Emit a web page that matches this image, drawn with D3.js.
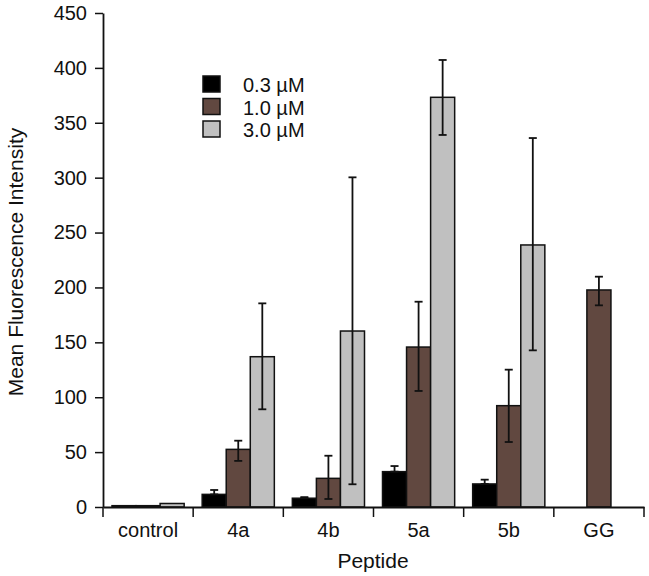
<!DOCTYPE html>
<html><head><meta charset="utf-8">
<script src="https://cdn.jsdelivr.net/npm/d3@7"></script>
<style>body{margin:0;background:#fff}svg{display:block}text{font-family:"Liberation Sans",Arial,sans-serif;fill:#111}</style>
</head><body>
<script>
const categories = ["control","4a","4b","5a","5b","GG"];
const seriesNames = ["0.3 µM","1.0 µM","3.0 µM"];
const seriesColors = ["#000000","#614840","#c0c0c0"];
// values per series (null = no bar)
const v03 = [1.2, 11.5, 8, 32.2, 21, null];
const v10 = [1.2, 52.5, 26.1, 145.7, 92.3, 197.7];
const v30 = [3.2, 136.9, 160.3, 373.2, 238.7, null];
// error bar low / high
const lo03 = [null, 11.5, 8, 32.2, 21, null];
const hi03 = [null, 15.5, 9, 37.3, 24.9, null];
const lo10 = [null, 42, 7.3, 105.7, 59.2, 183.7];
const hi10 = [null, 60.4, 46.7, 187, 125.1, 209.8];
const lo30 = [null, 89, 20.7, 338.9, 142.7, null];
const hi30 = [null, 185.5, 300.3, 407.2, 336.1, null];
const yTicks = [0,50,100,150,200,250,300,350,400,450];

const W=649,H=576;
const FONT="'Liberation Sans',Arial,sans-serif";
const svg=d3.select("body").append("svg").attr("width",W).attr("height",H);
const x0=d3.scaleBand().domain(categories).range([103,644]).padding(0);
const x1=d3.scaleBand().domain(seriesNames).range([9,x0.bandwidth()-9]).padding(0);
const y=d3.scaleLinear().domain([0,450]).range([507,13]);

const vals=[v03,v10,v30], los=[lo03,lo10,lo30], his=[hi03,hi10,hi30];
const rows=[];
seriesNames.forEach((s,si)=>categories.forEach((c,ci)=>{
  if(vals[si][ci]!=null) rows.push({s,si,c,v:vals[si][ci],lo:los[si][ci],hi:his[si][ci]});
}));

const g=svg.append("g");
g.selectAll("rect.bar").data(rows).join("rect").attr("class","bar")
 .attr("x",d=>x0(d.c)+x1(d.s)).attr("width",x1.bandwidth())
 .attr("y",d=>y(d.v)).attr("height",d=>y(0)-y(d.v))
 .attr("fill",d=>seriesColors[d.si]).attr("stroke","#111").attr("stroke-width",1.5);

const eb=rows.filter(d=>d.lo!=null);
const cx=d=>x0(d.c)+x1(d.s)+x1.bandwidth()/2;
g.selectAll("line.eb").data(eb).join("line").attr("x1",cx).attr("x2",cx)
 .attr("y1",d=>y(d.lo)).attr("y2",d=>y(d.hi)).attr("stroke","#111").attr("stroke-width",1.8);
g.selectAll("line.ebt").data(eb).join("line").attr("x1",d=>cx(d)-4).attr("x2",d=>cx(d)+4)
 .attr("y1",d=>y(d.hi)).attr("y2",d=>y(d.hi)).attr("stroke","#111").attr("stroke-width",1.8);
g.selectAll("line.ebb").data(eb).join("line").attr("x1",d=>cx(d)-4).attr("x2",d=>cx(d)+4)
 .attr("y1",d=>y(d.lo)).attr("y2",d=>y(d.lo)).attr("stroke","#111").attr("stroke-width",1.8);

// axes
const ya=svg.append("g").attr("transform","translate(103,0)")
 .call(d3.axisLeft(y).tickValues(yTicks).tickSize(8).tickSizeOuter(0).tickPadding(8));
ya.select(".domain").attr("stroke","#111").attr("stroke-width",1.8);
ya.selectAll(".tick line").attr("stroke","#111").attr("stroke-width",1.5);
ya.selectAll("text").style("font-size","20px").attr("fill","#111").style("font-family",FONT);

const xa=svg.append("g").attr("transform","translate(0,507)")
 .call(d3.axisBottom(x0).tickSize(0).tickSizeOuter(0).tickPadding(16));
xa.select(".domain").attr("stroke","#111").attr("stroke-width",1.8);
xa.selectAll("text").style("font-size","20px").attr("fill","#111").style("font-family",FONT);
// group separator ticks
const bounds=categories.map(c=>x0(c)).concat([x0.range()[1]]);
svg.append("g").selectAll("line").data(bounds).join("line")
 .attr("x1",d=>d).attr("x2",d=>d).attr("y1",507).attr("y2",517).attr("stroke","#111").attr("stroke-width",1.5);

svg.append("text").attr("x",373).attr("y",568).attr("text-anchor","middle").style("font-size","21px").text("Peptide");
svg.append("text").attr("transform","translate(23,262) rotate(-90)").attr("text-anchor","middle").style("font-size","21px").text("Mean Fluorescence Intensity");

// legend
const lg=svg.append("g").attr("transform","translate(203,76)");
seriesNames.forEach((s,i)=>{
  lg.append("rect").attr("x",0).attr("y",i*22.5).attr("width",17).attr("height",16)
   .attr("fill",seriesColors[i]).attr("stroke","#111").attr("stroke-width",1.5);
  lg.append("text").attr("x",40).attr("y",i*22.5+16).style("font-size","20px").text(s);
});
</script>
</body></html>
